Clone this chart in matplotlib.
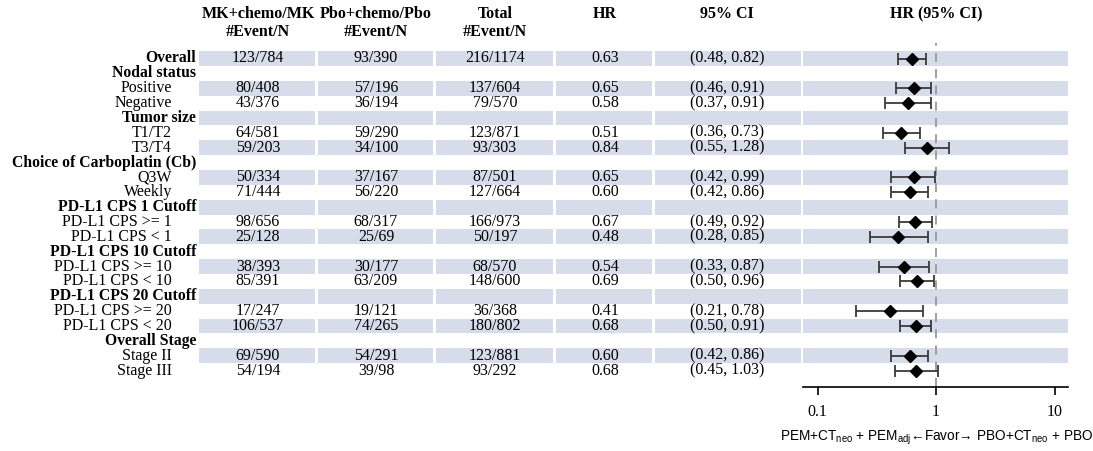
import numpy as np
import matplotlib.pyplot as plt
from matplotlib.patches import Rectangle

plt.rcParams['font.family'] = ['Liberation Serif', 'DejaVu Serif']
plt.rcParams['mathtext.default'] = 'regular'
plt.rcParams['font.size'] = 11

# 表格数据
labels = ['Overall', 'Nodal status', 'Positive', 'Negative', 'Tumor size', 'T1/T2', 'T3/T4',
          'Choice of Carboplatin (Cb)', 'Q3W', 'Weekly',
          'PD-L1 CPS 1 Cutoff', 'PD-L1 CPS >= 1', 'PD-L1 CPS < 1',
          'PD-L1 CPS 10 Cutoff', 'PD-L1 CPS >= 10', 'PD-L1 CPS < 10',
          'PD-L1 CPS 20 Cutoff', 'PD-L1 CPS >= 20', 'PD-L1 CPS < 20',
          'Overall Stage', 'Stage II', 'Stage III']
is_header = [True, True, False, False, True, False, False, True, False, False,
             True, False, False, True, False, False, True, False, False, True, False, False]
mk = ['123/784', '', '80/408', '43/376', '', '64/581', '59/203', '', '50/334', '71/444',
      '', '98/656', '25/128', '', '38/393', '85/391', '', '17/247', '106/537', '', '69/590', '54/194']
pbo = ['93/390', '', '57/196', '36/194', '', '59/290', '34/100', '', '37/167', '56/220',
       '', '68/317', '25/69', '', '30/177', '63/209', '', '19/121', '74/265', '', '54/291', '39/98']
total = ['216/1174', '', '137/604', '79/570', '', '123/871', '93/303', '', '87/501', '127/664',
         '', '166/973', '50/197', '', '68/570', '148/600', '', '36/368', '180/802', '', '123/881', '93/292']
hr = [0.63, None, 0.65, 0.58, None, 0.51, 0.84, None, 0.65, 0.60,
      None, 0.67, 0.48, None, 0.54, 0.69, None, 0.41, 0.68, None, 0.60, 0.68]
lo = [0.48, None, 0.46, 0.37, None, 0.36, 0.55, None, 0.42, 0.42,
      None, 0.49, 0.28, None, 0.33, 0.50, None, 0.21, 0.50, None, 0.42, 0.45]
hi = [0.82, None, 0.91, 0.91, None, 0.73, 1.28, None, 0.99, 0.86,
      None, 0.92, 0.85, None, 0.87, 0.96, None, 0.78, 0.91, None, 0.86, 1.03]

col_heads = [('MK+chemo/MK', '#Event/N'), ('Pbo+chemo/Pbo', '#Event/N'),
             ('Total', '#Event/N'), ('HR', ''), ('95% CI', ''), ('HR (95% CI)', '')]
xticks = [0.1, 1, 10]
xlabel = r'PEM+CT$_{neo}$ + PEM$_{adj}$←Favor→ PBO+CT$_{neo}$ + PBO$_{adj}$'

# 布局（像素）
W, H = 1093, 451
col_x = [258, 376, 495, 605, 727, 936]
segs = [(199, 315), (318, 433), (436, 553), (556, 652), (655, 801), (803, 1068)]
band_color = '#d6dcea'
y_top_px, y_bot_px, row0_px, pitch = 43, 387, 58.5, 14.86
ylim = ((y_bot_px - row0_px) / pitch, (y_top_px - row0_px) / pitch)
rect_y = 1 - y_bot_px / H
rect_h = (y_bot_px - y_top_px) / H

fig = plt.figure(figsize=(W / 100, H / 100), dpi=100)
ax = fig.add_axes([0, rect_y, 1, rect_h])
ax.set_xlim(0, W)
ax.set_ylim(*ylim)
ax.axis('off')

rows = np.arange(len(labels))
for i in rows:
    if i % 2 == 0:
        for x0, x1 in segs:
            ax.add_patch(Rectangle((x0, i - 0.5), x1 - x0, 1.0, color=band_color, lw=0, zorder=0))
    if is_header[i]:
        ax.text(196, i, labels[i], ha='right', va='center', fontweight='bold', fontsize=11.3)
    else:
        ax.text(172, i, labels[i], ha='right', va='center', fontsize=11.5)
    if hr[i] is not None:
        vals = [mk[i], pbo[i], total[i], '%.2f' % hr[i], '(%.2f, %.2f)' % (lo[i], hi[i])]
        for x, v in zip(col_x, vals):
            ax.text(x, i, v, ha='center', va='center', fontsize=11.5)

for x, (l1, l2) in zip(col_x, col_heads):
    fig.text(x / W, 1 - 14 / H, l1, ha='center', va='center', fontweight='bold', fontsize=11.5)
    if l2:
        fig.text(x / W, 1 - 32 / H, l2, ha='center', va='center', fontweight='bold', fontsize=11.5)

# 森林图
fx0, fx1 = 788, 1068
axf = fig.add_axes([fx0 / W, rect_y, (fx1 - fx0) / W, rect_h])
axf.patch.set_alpha(0)
axf.set_xscale('log')
dec = 118.5
axf.set_xlim(10 ** ((fx0 - 936) / dec), 10 ** ((fx1 - 936) / dec))
axf.set_ylim(*ylim)
for s in ['top', 'left', 'right']:
    axf.spines[s].set_visible(False)
axf.spines['bottom'].set_bounds(10 ** ((803 - 936) / dec), 10 ** ((fx1 - 936) / dec))
axf.spines['bottom'].set_linewidth(1.2)
axf.set_yticks([])
axf.set_xticks(xticks)
axf.set_xticklabels(['0.1', '1', '10'], fontsize=11.5)
axf.xaxis.set_minor_locator(plt.NullLocator())
axf.tick_params(axis='x', length=6, width=1.2, pad=6)

axf.axvline(1, color='#999999', lw=1.3, ls=(0, (5, 4)), zorder=1)
idx = [i for i in rows if hr[i] is not None]
h = np.array([hr[i] for i in idx])
l = np.array([lo[i] for i in idx])
u = np.array([hi[i] for i in idx])
axf.errorbar(h, idx, xerr=[h - l, u - h], fmt='D', color='black', ms=6.5,
             ecolor='#3a3a3a', elinewidth=1.3, capsize=4.5, capthick=1.3, zorder=3)

fig.text(780 / W, 1 - 438 / H, xlabel, ha='left', va='center',
         family='Liberation Sans', fontsize=9.8)

fig.savefig('out.png', dpi=100)
